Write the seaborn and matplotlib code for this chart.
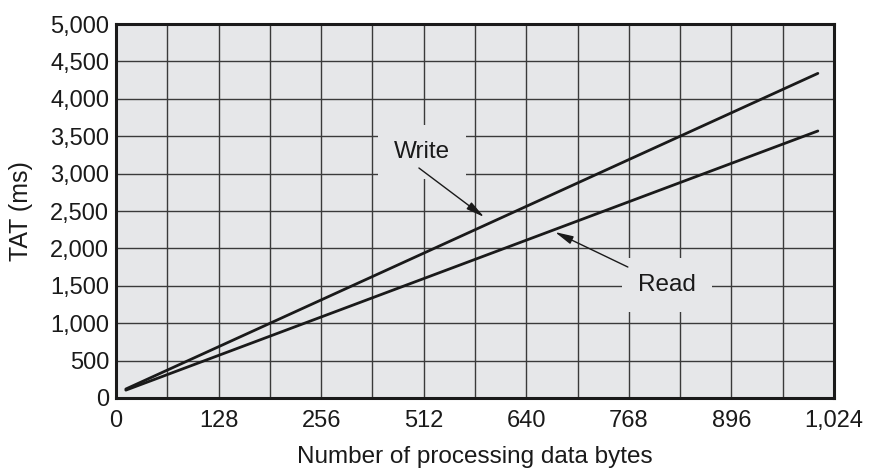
import matplotlib
matplotlib.use("Agg")
import matplotlib.pyplot as plt
import seaborn as sns
import pandas as pd
import numpy as np

# ---- data ----
bytes_x = [14, 1001]
write_tat = [120, 4340]
read_tat = [105, 3570]
x_tick_labels = ["0", "128", "256", "512", "640", "768", "896", "1,024"]
y_ticks = [0, 500, 1000, 1500, 2000, 2500, 3000, 3500, 4000, 4500, 5000]

df = pd.DataFrame({
    "bytes": bytes_x + bytes_x,
    "tat": write_tat + read_tat,
    "series": ["Write"] * len(bytes_x) + ["Read"] * len(bytes_x),
})

sns.set_style("white")
plt.rcParams["font.family"] = ["Liberation Sans", "DejaVu Sans"]

fig = plt.figure(figsize=(8.71, 4.71), dpi=100)
ax = fig.add_axes([0.1332, 0.155, 0.8243, 0.794])
ax.set_facecolor("#e6e7e9")

sns.lineplot(data=df, x="bytes", y="tat", units="series", estimator=None,
             color="#1a1a1a", linewidth=2.0, ax=ax, legend=False)

ax.set_xlim(0, 1024)
ax.set_ylim(0, 5000)
xt = np.linspace(0, 1024, len(x_tick_labels))
ax.set_xticks(xt)
ax.set_xticklabels(x_tick_labels)
ax.set_xticks(np.linspace(0, 1024, 15), minor=True)
ax.set_yticks(y_ticks)
ax.set_yticklabels([f"{v:,}" for v in y_ticks])

ax.grid(True, which="both", axis="x", color="#3a3a3a", linewidth=1.0)
ax.grid(True, which="major", axis="y", color="#3a3a3a", linewidth=1.0)
ax.set_axisbelow(True)
ax.tick_params(axis="y", which="both", length=0, labelsize=17, colors="#1a1a1a", pad=5)
ax.tick_params(axis="x", which="both", length=0, labelsize=17, colors="#1a1a1a", pad=9)

for s in ax.spines.values():
    s.set_visible(True)
    s.set_color("#1a1a1a")
    s.set_linewidth(2.2)

ax.set_xlabel("Number of processing data bytes", fontsize=17.5, color="#1a1a1a", labelpad=10)
ax.set_ylabel("TAT (ms)", fontsize=18, color="#1a1a1a", labelpad=12)

arrow_kw = dict(arrowstyle="-|>,head_length=1.1,head_width=0.25", color="#1a1a1a",
                lw=1.0, shrinkA=0, shrinkB=0)
ax.annotate("", xy=(525, 2420), xytext=(432, 3075), arrowprops=arrow_kw, zorder=5)
ax.annotate("", xy=(626, 2219), xytext=(730, 1751), arrowprops=arrow_kw, zorder=5)

box = dict(boxstyle="square,pad=0.65", facecolor="#e6e7e9", edgecolor="none")
ax.text(436, 3289, "Write", fontsize=17.5, ha="center", va="center", color="#1a1a1a",
        bbox=box, zorder=4)
ax.text(786, 1511, "Read", fontsize=17.5, ha="center", va="center", color="#1a1a1a",
        bbox=box, zorder=4)

fig.savefig("out.png", dpi=100)
